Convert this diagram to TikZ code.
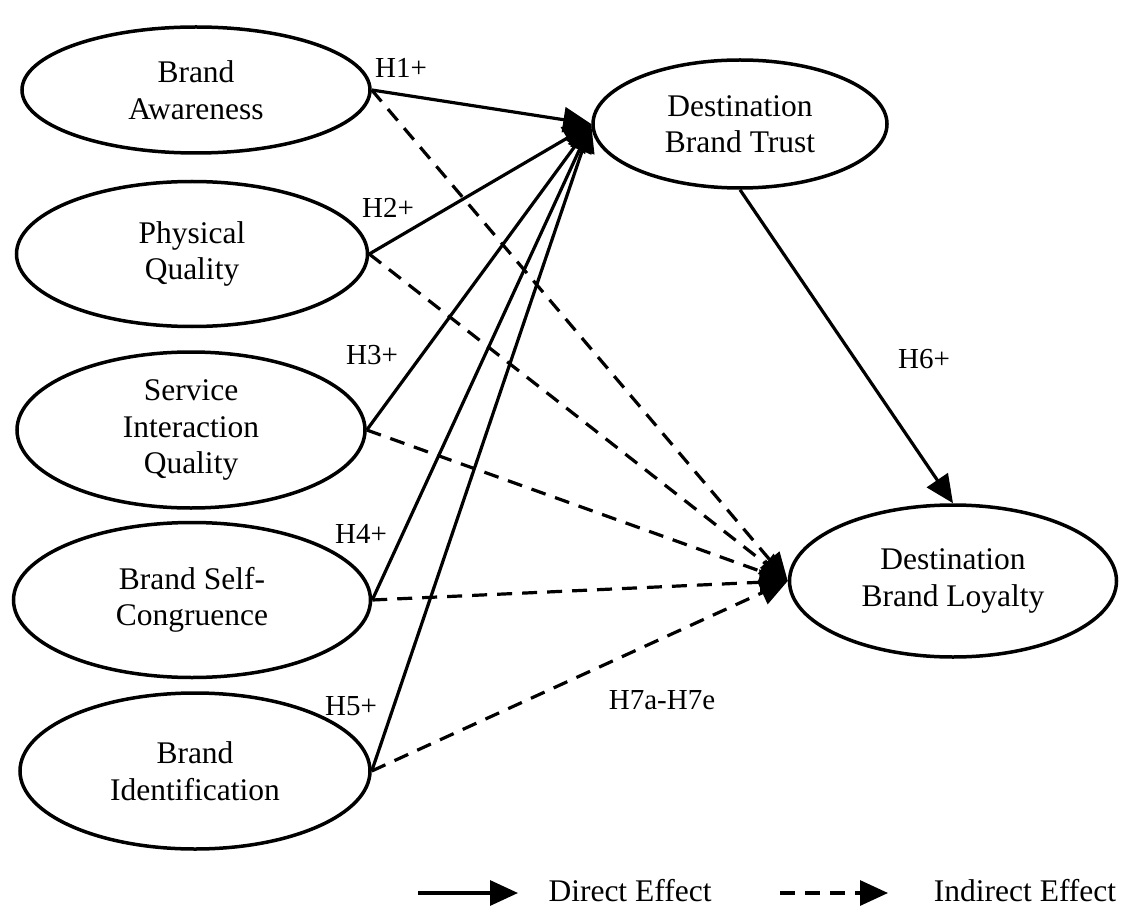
\documentclass[tikz,border=0pt]{standalone}
\usepackage{fontspec}
\setmainfont{Liberation Serif}
\usetikzlibrary{shapes.geometric,arrows.meta}
\begin{document}
\begin{tikzpicture}[x=1pt,y=-1pt,
  construct/.style={ellipse,draw,line width=3.5pt,inner sep=0pt,align=center,font=\fontsize{31.5}{36.5}\selectfont},
  direct/.style={line width=3.2pt,-{Triangle[length=28pt,width=25pt]}},
  indirect/.style={direct,dash pattern=on 15pt off 10pt},
  hlabel/.style={font=\fontsize{29}{34}\selectfont,inner sep=0pt},
  legtext/.style={font=\fontsize{31.5}{36}\selectfont,inner sep=0pt}]
\useasboundingbox (0,0) rectangle (1121,909);
% constructs
\node[construct,minimum width=348pt,minimum height=126pt] (ba)  at (196,90)  {Brand\\Awareness};
\node[construct,minimum width=351pt,minimum height=145pt] (pq)  at (192,254) {Physical\\Quality};
\node[construct,minimum width=348pt,minimum height=156pt] (siq) at (191,430) {Service\\Interaction\\Quality};
\node[construct,minimum width=357pt,minimum height=155pt] (bsc) at (192,600) {Brand Self-\\Congruence};
\node[construct,minimum width=350pt,minimum height=156pt] (bi)  at (195,771) {Brand\\Identification};
\node[construct,minimum width=294pt,minimum height=128pt] (dbt) at (740,124) {Destination\\Brand Trust};
\node[construct,minimum width=327pt,minimum height=152pt] (dbl) at (953,581) {Destination\\Brand Loyalty};
% indirect effects
\foreach \s in {ba,pq,siq,bsc,bi}{
  \draw[indirect] (\s.east) -- (dbl.west);
}
% direct effects
\foreach \s in {ba,pq,siq,bsc,bi}{
  \draw[direct] (\s.east) -- (dbt.west);
}
\draw[direct] (dbt.south) -- (dbl.north);
% labels
\node[hlabel] (h1) at (401,68)  {H1+};
\node[hlabel] (h2) at (388,208) {H2+};
\node[hlabel] (h3) at (372,355) {H3+};
\node[hlabel] (h4) at (361,534) {H4+};
\node[hlabel] (h5) at (351,706) {H5+};
\node[hlabel] (h6) at (924,359) {H6+};
\node[hlabel] (h7) at (662,700) {H7a-H7e};
% legend
\coordinate (ls1) at (418,893);
\coordinate (le1) at (518,893);
\draw[direct] (ls1) -- (le1);
\node[legtext] (lt1) at (630,891) {Direct Effect};
\coordinate (ls2) at (780,893);
\coordinate (le2) at (888,893);
\draw[indirect] (ls2) -- (le2);
\node[legtext] (lt2) at (1025,891) {Indirect Effect};
\end{tikzpicture}
\end{document}
